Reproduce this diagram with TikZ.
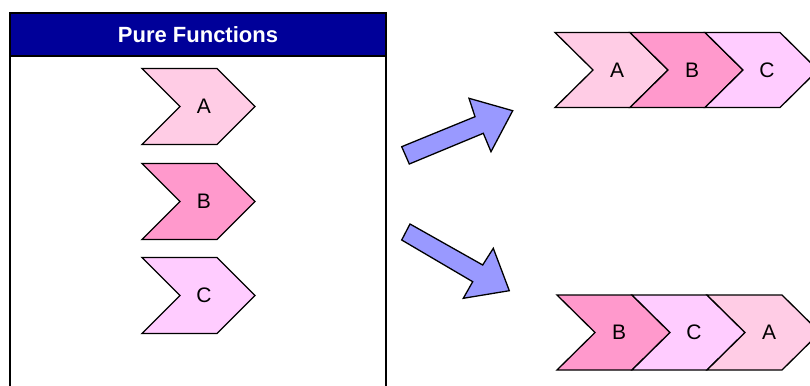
\documentclass[tikz,border=0pt]{standalone}
\usepackage{fontspec}
\setmainfont{Liberation Sans}
\definecolor{navy}{HTML}{000099}
\definecolor{chA}{HTML}{FFCCE5}
\definecolor{chB}{HTML}{FF99CC}
\definecolor{chC}{HTML}{FFCCFF}
\definecolor{arr}{HTML}{9999FF}
\tikzset{
  chevshape/.style={draw=black, line width=1.3pt, line join=miter},
  chevlabel/.style={font=\fontsize{21}{24}\selectfont, text=black, inner sep=0pt},
  bigarrow/.style={draw=black, fill=arr, line width=1.3pt, line join=miter},
}
% #1 name, #2 x of top-left, #3 y top, #4 height, #5 colour, #6 label, #7 notch depth
\newcommand\chev[7]{%
  \draw[chevshape, fill=#5] (#2,#3) -- ++(75,0) -- ++(38,#4/2) -- ++(-38,#4/2) -- ++(-75,0) -- ++(#7,-#4/2) -- cycle;
  \node[chevlabel] (#1) at ({#2+62},{#3+#4/2}) {#6};
}
\begin{document}
\begin{tikzpicture}[x=1pt,y=-1pt]
\path[use as bounding box, clip] (0,0) rectangle (810,385);
\fill[white] (0,0) rectangle (810,385);
% box
\draw[line width=1.8pt] (10,13) rectangle (386,400);
\draw[line width=1.8pt, fill=navy] (10,13) rectangle (386,56);
\node[font=\fontsize{22}{26}\selectfont\bfseries, text=white] (title) at (198,35) {Pure Functions};
% left chevrons
\chev{la}{142}{68.5}{76}{chA}{A}{38}
\chev{lb}{142}{163.5}{76}{chB}{B}{38}
\chev{lc}{142}{257.5}{76}{chC}{C}{38}
% top right
\chev{ta}{555}{32.5}{75}{chA}{A}{38}
\chev{tb}{630}{32.5}{75}{chB}{B}{38}
\chev{tc}{705}{32.5}{75}{chC}{C}{38}
% bottom right
\chev{ba}{557}{295}{75}{chB}{B}{38}
\chev{bb}{632}{295}{75}{chC}{C}{38}
\chev{bc}{707}{295}{75}{chA}{A}{38}
% arrows
\draw[bigarrow] (401.7,146.7) -- (475,116.7) -- (469,98.3) -- (512.7,110.7) -- (491,151.7) -- (483.3,133.3) -- (409.3,164) -- cycle;
\draw[bigarrow] (410,224) -- (482.7,265) -- (493.3,248.3) -- (509.3,290.7) -- (463.3,298.3) -- (472.7,281.7) -- (401.7,240) -- cycle;
\end{tikzpicture}
\end{document}
